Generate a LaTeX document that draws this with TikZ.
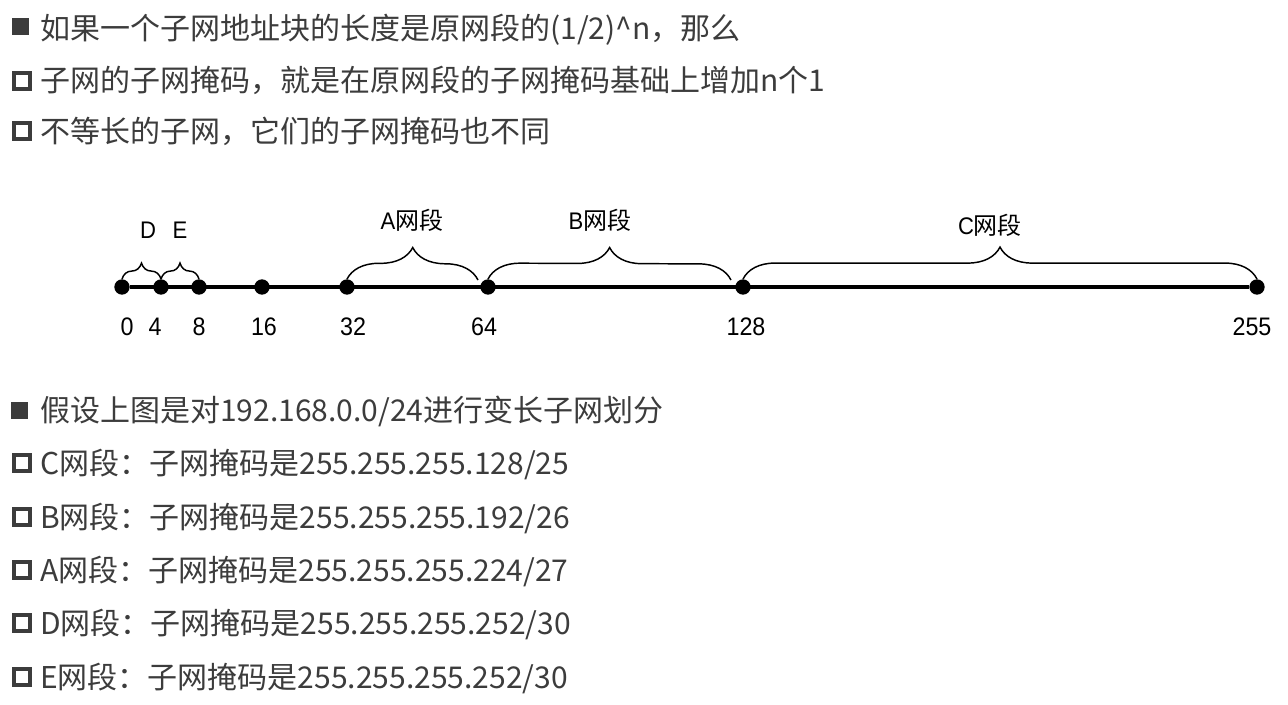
\documentclass[tikz,border=0pt]{standalone}
\usepackage{fontspec}
\setmainfont{Noto Sans CJK SC}
\newfontfamily\numfont[FakeStretch=0.92]{Liberation Sans}
\usetikzlibrary{decorations.pathreplacing}
\definecolor{txtgray}{HTML}{3C3C3C}

\begin{document}
\begin{tikzpicture}[
  x=0.75pt, y=-0.75pt,
  line/.style={anchor=base west, inner sep=0pt, text=txtgray,
    font=\fontsize{22.5}{27}\selectfont},
  fullbox/.style={fill=txtgray, inner sep=0pt, minimum size=12.75pt},
  openbox/.style={draw=txtgray, line width=3pt, inner sep=0pt, minimum size=12pt},
  dot/.style={circle, fill=black, inner sep=0pt, minimum size=11.5pt},
  num/.style={inner sep=0pt, font=\numfont\fontsize{19}{21}\selectfont},
  seg/.style={inner sep=0pt, font=\fontsize{18}{20}\selectfont},
  brc/.style={decorate, line width=1.1pt,
    decoration={brace, amplitude=#1}}
]
  \useasboundingbox (0,0) rectangle (1288,704);

  \node[fullbox] (b1) at (20,26.5) {};
  \node[line] (t1) at (40,39) {如果一个子网地址块的长度是原网段的(1/2)\textasciicircum n，那么};
  \node[openbox] (b2) at (22,80.5) {};
  \node[line] (t2) at (40,91) {子网的子网掩码，就是在原网段的子网掩码基础上增加n个1};
  \node[openbox] (b3) at (22,131) {};
  \node[line] (t3) at (40,142) {不等长的子网，它们的子网掩码也不同};

  \node[dot] (p0) at (122,287) {};
  \node[dot] (p4) at (161,287) {};
  \node[dot] (p8) at (199,287) {};
  \node[dot] (p16) at (262,287) {};
  \node[dot] (p32) at (347,287) {};
  \node[dot] (p64) at (488,287) {};
  \node[dot] (p128) at (743,287) {};
  \node[dot] (p255) at (1257,287) {};
  \draw[line width=3.2pt] (p0) -- (p255);

  \node[num] (n0) at (127,327) {0};
  \node[num] (n4) at (155,327) {4};
  \node[num] (n8) at (199,327) {8};
  \node[num] (n16) at (264,327) {16};
  \node[num] (n32) at (353,327) {32};
  \node[num] (n64) at (484,327) {64};
  \node[num] (n128) at (746,327) {128};
  \node[num] (n255) at (1252,327) {255};

  \coordinate (aR) at (478,280);
  \coordinate (bR) at (731,280);
  \draw[brc=12pt] (p0.north) -- (p4.north);
  \draw[brc=12pt] (p4.north) -- (p8.north);
  \draw[brc=24pt] (p32.north) -- (aR);
  \draw[brc=24pt] (p64.north) -- (bR);
  \draw[brc=24pt] (p128.north) -- (p255.north);

  \node[seg] (lD) at (148,230) {{\numfont D}};
  \node[seg] (lE) at (180,230) {{\numfont E}};
  \node[seg] (lA) at (412,220) {{\numfont A}网段};
  \node[seg] (lB) at (600,220) {{\numfont B}网段};
  \node[seg] (lC) at (990,225) {{\numfont C}网段};

  \node[fullbox] (b4) at (19.5,410.5) {};
  \node[line] (t4) at (40,421) {假设上图是对192.168.0.0/24进行变长子网划分};
  \node[openbox] (b5) at (22,463) {};
  \node[line] (t5) at (40,474) {C网段：子网掩码是255.255.255.128/25};
  \node[openbox] (b6) at (22,517) {};
  \node[line] (t6) at (40,528) {B网段：子网掩码是255.255.255.192/26};
  \node[openbox] (b7) at (22,570) {};
  \node[line] (t7) at (40,581) {A网段：子网掩码是255.255.255.224/27};
  \node[openbox] (b8) at (22,623) {};
  \node[line] (t8) at (40,634) {D网段：子网掩码是255.255.255.252/30};
  \node[openbox] (b9) at (22,677) {};
  \node[line] (t9) at (40,688) {E网段：子网掩码是255.255.255.252/30};
\end{tikzpicture}
\end{document}
